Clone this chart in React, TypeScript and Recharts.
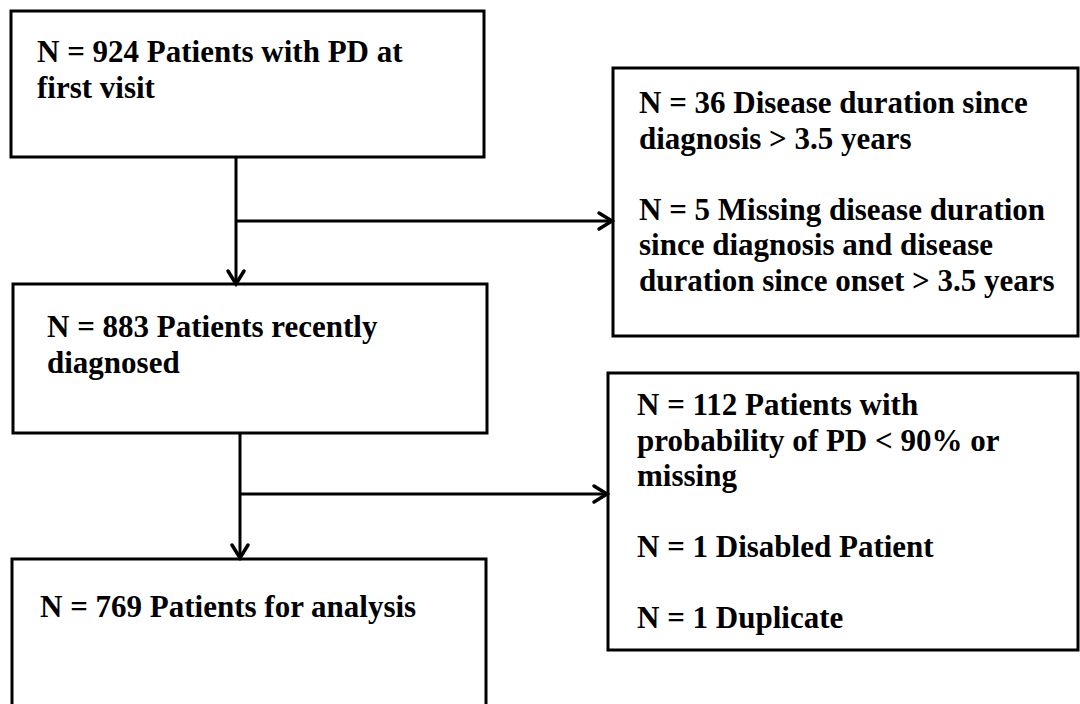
import {
  ComposedChart,
  XAxis,
  YAxis,
  ReferenceArea,
  ReferenceLine,
} from "recharts";

// flow data
const stageCounts = [924, 883, 769];
const stageText = [
  ["Patients with PD at", "first visit"],
  ["Patients recently", "diagnosed"],
  ["Patients for analysis"],
];

const excludedCountsA = [36, 5];
const excludedTextA = [
  ["Disease duration since", "diagnosis > 3.5 years"],
  ["Missing disease duration", "since diagnosis and disease", "duration since onset > 3.5 years"],
];

const excludedCountsB = [112, 1, 1];
const excludedTextB = [
  ["Patients with", "probability of PD < 90% or", "missing"],
  ["Disabled Patient"],
  ["Duplicate"],
];

// layout in chart units (x 0..1080, y 0..704 top-down)
const stageBoxes = [
  { x1: 11, x2: 484, y1: 11, y2: 157, padX: 26, top: 51 },
  { x1: 13, x2: 487, y1: 284, y2: 433, padX: 34, top: 53 },
  { x1: 12, x2: 486, y1: 559, y2: 714, padX: 28, top: 58 },
];
const excludedBoxes = [
  { x1: 613, x2: 1078, y1: 68, y2: 336, padX: 26, top: 45 },
  { x1: 608, x2: 1078, y1: 373, y2: 650, padX: 29, top: 42 },
];
const arrows = [
  { from: { x: 236, y: 158 }, to: { x: 236, y: 284 } },
  { from: { x: 236, y: 221 }, to: { x: 612, y: 221 } },
  { from: { x: 240, y: 433 }, to: { x: 240, y: 558 } },
  { from: { x: 240, y: 494 }, to: { x: 607, y: 494 } },
];

const LINE_H = 35.5;
const FONT = "'Liberation Serif', 'Times New Roman', serif";

const withCount = (count: number, text: string[]) => [
  `N = ${count} ${text[0]}`,
  ...text.slice(1),
];

const groupLines = (counts: number[], texts: string[][]) =>
  counts.flatMap((c, i) => (i === 0 ? [] : [""]).concat(withCount(c, texts[i])));

const stageLines = stageCounts.map((c, i) => withCount(c, stageText[i]));
const excludedLines = [
  groupLines(excludedCountsA, excludedTextA),
  groupLines(excludedCountsB, excludedTextB),
];

function boxText(lines: string[], padX: number, top: number) {
  return (props: any) => {
    const vb = props.viewBox || {};
    return (
      <g>
        {lines.map((line, i) =>
          line ? (
            <text
              key={i}
              x={vb.x + padX}
              y={vb.y + top + i * LINE_H}
              fontFamily={FONT}
              fontWeight="bold"
              fontSize={31}
              fill="#000"
            >
              {line}
            </text>
          ) : null
        )}
      </g>
    );
  };
}

function ArrowShape(props: any) {
  const { x1, y1, x2, y2 } = props;
  const len = Math.hypot(x2 - x1, y2 - y1) || 1;
  const ux = (x2 - x1) / len;
  const uy = (y2 - y1) / len;
  const back = 13;
  const side = 8;
  const ax = x2 - ux * back;
  const ay = y2 - uy * back;
  return (
    <g>
      <line x1={x1} y1={y1} x2={x2} y2={y2} stroke="#000" strokeWidth={3} />
      <polyline
        points={`${ax - uy * side},${ay + ux * side} ${x2},${y2} ${ax + uy * side},${ay - ux * side}`}
        fill="none"
        stroke="#000"
        strokeWidth={3.5}
        strokeLinecap="round"
        strokeLinejoin="miter"
      />
    </g>
  );
}

export default function App() {
  return (
    <div
      style={{
        position: "absolute",
        left: 0,
        top: 0,
        width: 1080,
        height: 704,
        background: "#fff",
        overflow: "hidden",
      }}
    >
      <ComposedChart
        width={1080}
        height={704}
        data={[]}
        margin={{ top: 0, right: 0, bottom: 0, left: 0 }}
      >
        <XAxis type="number" dataKey="x" domain={[0, 1080]} allowDataOverflow hide />
        <YAxis type="number" dataKey="y" domain={[0, 704]} allowDataOverflow reversed hide />

        {arrows.map((a, i) => (
          <ReferenceLine
            key={`arrow-${i}`}
            segment={[a.from, a.to]}
            ifOverflow="visible"
            stroke="#000"
            strokeWidth={3}
            shape={ArrowShape}
          />
        ))}

        {stageBoxes.map((b, i) => (
          <ReferenceArea
            key={`stage-${i}`}
            x1={b.x1}
            x2={b.x2}
            y1={b.y1}
            y2={b.y2}
            ifOverflow="visible"
            fill="#fff"
            fillOpacity={1}
            stroke="#000"
            strokeWidth={3}
            label={boxText(stageLines[i], b.padX, b.top)}
          />
        ))}

        {excludedBoxes.map((b, i) => (
          <ReferenceArea
            key={`excl-${i}`}
            x1={b.x1}
            x2={b.x2}
            y1={b.y1}
            y2={b.y2}
            ifOverflow="visible"
            fill="#fff"
            fillOpacity={1}
            stroke="#000"
            strokeWidth={3}
            label={boxText(excludedLines[i], b.padX, b.top)}
          />
        ))}
      </ComposedChart>
    </div>
  );
}
